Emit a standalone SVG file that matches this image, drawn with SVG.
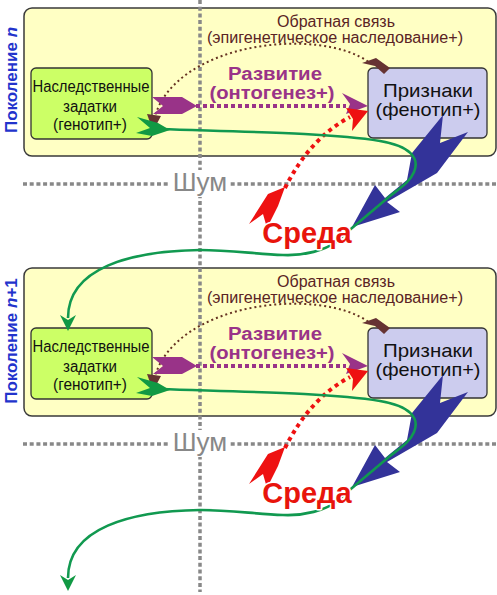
<svg xmlns="http://www.w3.org/2000/svg" width="497" height="595" viewBox="0 0 497 595">
<style>
text{font-family:"Liberation Sans",Arial,sans-serif}
.panel{fill:#ffffc4;stroke:#3a3a3a;stroke-width:1.5}
.geno{fill:#ccff66;stroke:#333;stroke-width:1.3}
.pheno{fill:#ccccee;stroke:#333;stroke-width:1.3}
.node{font-size:16px;fill:#111;text-anchor:middle}
.nodeb{font-size:19px;fill:#111;text-anchor:middle}
.fb{font-size:16px;fill:#5a2424;text-anchor:middle}
.dev{font-size:18px;font-weight:bold;fill:#993388;text-anchor:middle}
.gen{font-size:17px;font-weight:bold;fill:#2233cc;text-anchor:middle}
.grid{stroke:#888;stroke-width:3.5;stroke-dasharray:4 2.7;fill:none}
.noise{font-size:26px;fill:#888;text-anchor:middle}
.env{font-size:29px;font-weight:bold;fill:#e8140c;text-anchor:middle;stroke:#fff;stroke-width:3;paint-order:stroke;stroke-linejoin:round}
.brownl{fill:none;stroke:#663322;stroke-width:2;stroke-dasharray:2 3}
.brown{fill:#663333}
.purpl{fill:none;stroke:#993388;stroke-width:4;stroke-dasharray:4 3}
.purp{fill:#993388}
.redl{fill:none;stroke:#ee1111;stroke-width:4;stroke-dasharray:4 4}
.red{fill:#ee1111}
.blue{fill:#333399}
.greenl{fill:none;stroke:#119950;stroke-width:2.6}
.green{fill:#119944}
</style>

<!-- panels -->
<rect id="panel1" class="panel" x="24" y="8" width="472" height="148" rx="8"/>
<rect id="panel2" class="panel" x="24" y="268" width="472" height="148" rx="8"/>

<!-- grid lines -->
<g id="grid">
<line class="grid" x1="200" y1="0" x2="200" y2="592"/>
<line class="grid" x1="23" y1="184" x2="497" y2="184"/>
<line class="grid" x1="23" y1="444" x2="497" y2="444"/>
<rect x="170" y="170" width="60" height="27" fill="#fff"/>
<rect x="170" y="430" width="60" height="27" fill="#fff"/>
<text class="noise" x="200" y="191">Шум</text>
<text class="noise" x="200" y="451">Шум</text>
</g>

<!-- generation labels -->
<text class="gen" transform="translate(17,80) rotate(-90)">Поколение <tspan font-style="italic">n</tspan></text>
<text class="gen" transform="translate(17,341) rotate(-90)">Поколение <tspan font-style="italic">n</tspan>+1</text>

<!-- generation 1 nodes -->
<g id="genotype1">
<rect class="geno" x="31" y="68" width="121" height="71" rx="5"/>
<text class="node" x="91" y="92" textLength="117" lengthAdjust="spacingAndGlyphs">Наследственные</text>
<text class="node" x="90" y="112" textLength="54" lengthAdjust="spacingAndGlyphs">задатки</text>
<text class="node" x="90" y="130" textLength="74" lengthAdjust="spacingAndGlyphs">(генотип+)</text>
</g>
<g id="phenotype1">
<rect class="pheno" x="368" y="68" width="119" height="70" rx="5"/>
<text class="nodeb" x="428" y="97" textLength="90" lengthAdjust="spacingAndGlyphs">Признаки</text>
<text class="nodeb" x="428" y="116" textLength="105" lengthAdjust="spacingAndGlyphs">(фенотип+)</text>
</g>

<!-- generation 2 nodes -->
<g id="genotype2">
<rect class="geno" x="31" y="328" width="121" height="71" rx="5"/>
<text class="node" x="91" y="352" textLength="117" lengthAdjust="spacingAndGlyphs">Наследственные</text>
<text class="node" x="90" y="372" textLength="54" lengthAdjust="spacingAndGlyphs">задатки</text>
<text class="node" x="90" y="390" textLength="74" lengthAdjust="spacingAndGlyphs">(генотип+)</text>
</g>
<g id="phenotype2">
<rect class="pheno" x="368" y="328" width="119" height="70" rx="5"/>
<text class="nodeb" x="428" y="357" textLength="90" lengthAdjust="spacingAndGlyphs">Признаки</text>
<text class="nodeb" x="428" y="376" textLength="105" lengthAdjust="spacingAndGlyphs">(фенотип+)</text>
</g>

<!-- connectors -->
<g id="connectors">
<g id="conn1">
<text class="fb" x="336" y="27" textLength="118" lengthAdjust="spacingAndGlyphs">Обратная связь</text>
<text class="fb" x="335" y="43" textLength="256" lengthAdjust="spacingAndGlyphs">(эпигенетическое наследование+)</text>
<text class="dev" x="275" y="80" textLength="94" lengthAdjust="spacingAndGlyphs">Развитие</text>
<text class="dev" x="272" y="99" textLength="125" lengthAdjust="spacingAndGlyphs">(онтогенез+)</text>
<path class="brownl" d="M153,124 C168,42 320,25 370,63"/>
<polygon class="brown" points="362,63 376,58 390,68 384,74 375,66"/>
<polygon class="brown" points="147,114 161,116 153,131"/>
<path class="purpl" d="M196,106 L346,106"/>
<polygon class="purp" points="152,97 182,97 197,106 182,114 153,114 163,106"/>
<polygon class="purp" points="342,93 368,106 346,114 350,104"/>
<path class="redl" d="M285,188 Q310,138 350,117"/>
<polygon class="red" points="285,187 278,206 267,228 263,214 249,224 268,194"/>
<polygon class="red" points="346,108 368,111 352,131 353,119"/>
<polygon class="blue" points="352,227 375,185 385,198 407,180 412,153 443,115 440,143 468,132 437,173 387,202 400,212"/>
<path class="greenl" d="M160,129 C250,132 330,133 380,141 C410,146 420,158 414,172 C410,182 400,188 390,196 L352,228 L336,242 C325,250 305,256 283,255 C255,254 230,250 200,250 C130,251 68,268 68,318"/>
<polygon class="green" points="137,117 158,123 170,130 152,136 136,133 150,128"/>
<polygon class="green" points="60,315 68,320 76,315 68,331"/>
<text class="env" x="307" y="243">Среда</text>
</g>
<g id="conn2" transform="translate(0,260)">
<text class="fb" x="336" y="27" textLength="118" lengthAdjust="spacingAndGlyphs">Обратная связь</text>
<text class="fb" x="335" y="43" textLength="256" lengthAdjust="spacingAndGlyphs">(эпигенетическое наследование+)</text>
<text class="dev" x="275" y="80" textLength="94" lengthAdjust="spacingAndGlyphs">Развитие</text>
<text class="dev" x="272" y="99" textLength="125" lengthAdjust="spacingAndGlyphs">(онтогенез+)</text>
<path class="brownl" d="M153,124 C168,42 320,25 370,63"/>
<polygon class="brown" points="362,63 376,58 390,68 384,74 375,66"/>
<polygon class="brown" points="147,114 161,116 153,131"/>
<path class="purpl" d="M196,106 L346,106"/>
<polygon class="purp" points="152,97 182,97 197,106 182,114 153,114 163,106"/>
<polygon class="purp" points="342,93 368,106 346,114 350,104"/>
<path class="redl" d="M285,188 Q310,138 350,117"/>
<polygon class="red" points="285,187 278,206 267,228 263,214 249,224 268,194"/>
<polygon class="red" points="346,108 368,111 352,131 353,119"/>
<polygon class="blue" points="352,227 375,185 385,198 407,180 412,153 443,115 440,143 468,132 437,173 387,202 400,212"/>
<path class="greenl" d="M160,129 C250,132 330,133 380,141 C410,146 420,158 414,172 C410,182 400,188 390,196 L352,228 L336,242 C325,250 305,256 283,255 C255,254 230,250 200,250 C130,251 68,268 68,318"/>
<polygon class="green" points="137,117 158,123 170,130 152,136 136,133 150,128"/>
<polygon class="green" points="60,315 68,320 76,315 68,331"/>
<text class="env" x="307" y="243">Среда</text>
</g>
</g>
</svg>
